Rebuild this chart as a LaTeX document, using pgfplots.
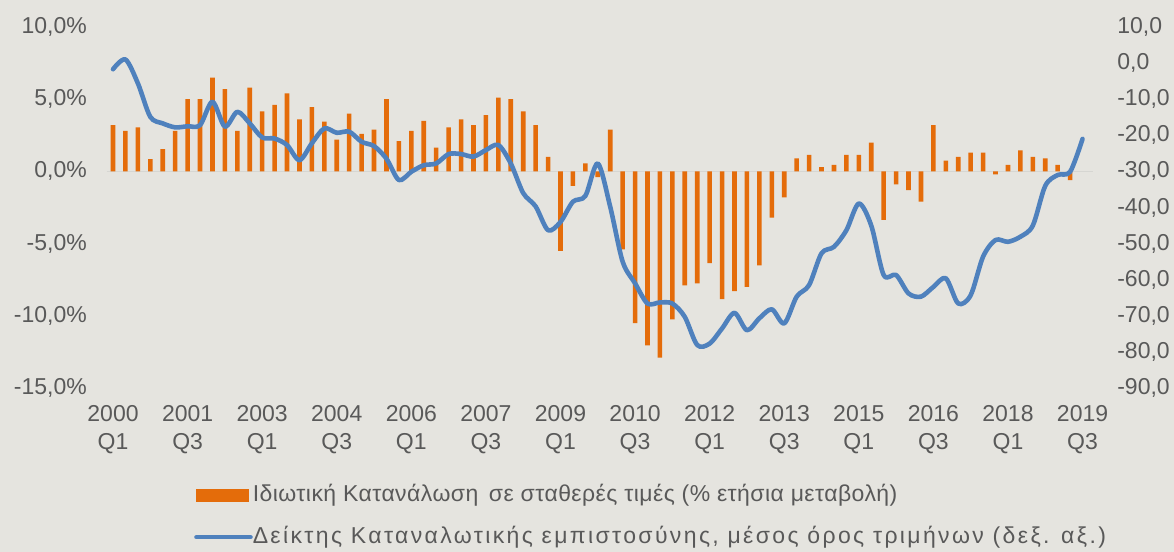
\documentclass[border=0pt]{standalone}
\usepackage{pgfplots}
\pgfplotsset{compat=1.18}
\usepackage{fontspec}
\setmainfont{Liberation Sans}
\definecolor{bg}{RGB}{229,228,223}
\definecolor{barc}{HTML}{E46C0A}
\definecolor{linec}{HTML}{4F81BD}
\definecolor{txt}{HTML}{595959}
\definecolor{zl}{HTML}{D6D6D2}

\pgfplotstableread{
x y
0 3.2
1 2.8
2 3.05
3 0.85
4 1.55
5 2.8
6 5.0
7 5.0
8 6.5
9 5.7
10 2.8
11 5.8
12 4.15
13 4.6
14 5.4
15 3.6
16 4.45
17 3.45
18 2.2
19 4.0
20 2.6
21 2.9
22 5.0
23 2.1
24 2.8
25 3.5
26 1.65
27 3.05
28 3.6
29 3.2
30 3.9
31 5.1
32 5.0
33 4.15
34 3.2
35 1.0
36 -5.5
37 -1.0
38 0.55
39 -0.4
40 2.9
41 -5.4
42 -10.5
43 -12.05
44 -12.9
45 -10.25
46 -7.9
47 -7.75
48 -6.35
49 -8.85
50 -8.3
51 -8.0
52 -6.5
53 -3.2
54 -1.8
55 0.9
56 1.15
57 0.3
58 0.45
59 1.15
60 1.15
61 2.0
62 -3.35
63 -0.9
64 -1.3
65 -2.1
66 3.2
67 0.75
68 1.0
69 1.3
70 1.3
71 -0.2
72 0.45
73 1.45
74 1.0
75 0.9
76 0.45
77 -0.6
}\bars

\pgfplotstableread{
x y
0 -1.7
1 1.0
2 -5.6
3 -14.9
4 -16.7
5 -17.8
6 -17.5
7 -17.2
8 -10.7
9 -17.6
10 -13.5
11 -16.7
12 -20.6
13 -20.9
14 -22.7
15 -26.9
16 -22.2
17 -18.1
18 -19.3
19 -19.0
20 -21.8
21 -23.0
22 -26.5
23 -32.4
24 -30.1
25 -28.3
26 -27.8
27 -25.2
28 -25.2
29 -25.9
30 -24.1
31 -22.7
32 -27.8
33 -36.0
34 -39.7
35 -46.3
36 -44.0
37 -38.4
38 -36.8
39 -27.8
40 -39.8
41 -55.0
42 -61.0
43 -66.6
44 -66.3
45 -66.6
46 -70.3
47 -78.1
48 -77.7
49 -73.5
50 -69.2
51 -74.0
52 -70.7
53 -68.2
54 -72.1
55 -64.7
56 -61.5
57 -52.7
58 -50.9
59 -46.3
60 -38.9
61 -45.0
62 -58.7
63 -58.7
64 -63.8
65 -64.7
66 -62.0
67 -59.6
68 -66.6
69 -64.3
70 -53.6
71 -49.0
72 -49.5
73 -48.1
74 -45.0
75 -34.0
76 -31.0
77 -30.1
78 -21.0
}\conf

\begin{document}
\begin{tikzpicture}[x=1bp,y=1bp]
\fill[bg] (0,0) rectangle (1174,552);
\path[use as bounding box] (0,0) rectangle (1174,552);
\pgfplotsset{
  base/.style={
    at={(106.8bp,164bp)}, anchor=south west,
    scale only axis, width=986.3bp, height=361bp,
    xmin=-0.5, xmax=78.85,
    axis line style={draw=none},
    major tick length=0pt,
    tick style={draw=none},
    ticklabel style={font=\fontsize{23bp}{28bp}\selectfont, text=txt, inner sep=0pt},
  }
}
\begin{axis}[base,
  ymin=-15, ymax=10,
  ytick={-15,-10,-5,0,5,10},
  yticklabels={{-15,0\%},{-10,0\%},{-5,0\%},{0,0\%},{5,0\%},{10,0\%}},
  yticklabel shift=19.8bp,
  xtick={0,6,...,78},
  xticklabels={{2000\\Q1},{2001\\Q3},{2003\\Q1},{2004\\Q3},{2006\\Q1},{2007\\Q3},{2009\\Q1},{2010\\Q3},{2012\\Q1},{2013\\Q3},{2015\\Q1},{2016\\Q3},{2018\\Q1},{2019\\Q3}},
  xticklabel style={align=center},
  xticklabel shift=17bp,
  extra y ticks={0}, extra y tick labels={},
  extra y tick style={grid=major, major grid style={draw=zl, line width=1.5bp}},
  ybar, bar width=4.6bp,
]
\addplot[fill=barc, draw=none] table[x=x,y=y] {\bars};
\end{axis}
\begin{axis}[base,
  ymin=-90, ymax=10,
  ytick={-90,-80,...,10},
  yticklabels={{-90,0},{-80,0},{-70,0},{-60,0},{-50,0},{-40,0},{-30,0},{-20,0},{-10,0},{0,0},{10,0}},
  yticklabel pos=right,
  yticklabel style={anchor=west},
  yticklabel shift=24bp,
  xtick=\empty,
  legend style={at={(axis description cs:0.0884,-0.2659)}, anchor=north west,
    draw=none, fill=none, inner sep=0pt, row sep=20bp,
    font=\fontsize{23bp}{28bp}\selectfont, text=txt,
    nodes={inner sep=0pt, text height=17bp, text depth=5bp, xshift=6bp}},
  legend cell align=left,
]
\addlegendimage{legend image code/.code={\fill[barc] (0bp,-6bp) rectangle (52bp,6bp);}}
\addlegendentry{\addfontfeatures{LetterSpace=1.9}Ιδιωτική Κατανάλωση\, σε σταθερές τιμές (\% ετήσια μεταβολή)}
\addplot[linec, line width=4.6bp, line cap=round, line join=round, smooth, tension=0.5,
  legend image code/.code={\draw[linec, line width=4.6bp, line cap=round] (0bp,0bp) -- (54bp,0bp);}]
  table[x=x,y=y] {\conf};
\addlegendentry{\addfontfeatures{LetterSpace=10.3}Δείκτης Καταναλωτικής εμπιστοσύνης, μέσος όρος τριμήνων (δεξ. αξ.)}
\end{axis}
\end{tikzpicture}
\end{document}
